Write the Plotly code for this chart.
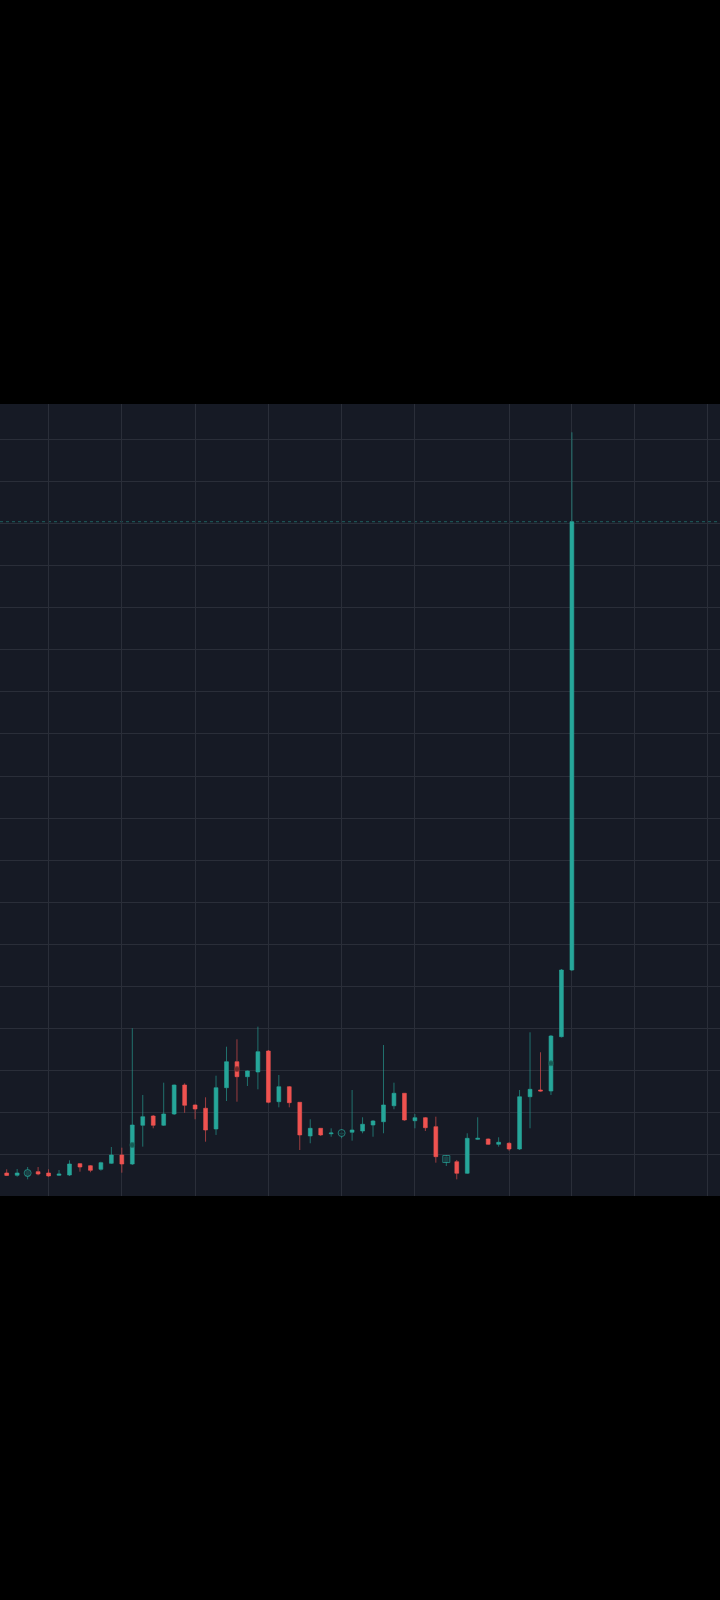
import plotly.graph_objects as go

# ---- data (prices) ----
idx = list(range(55))
open_ = [0.0786, 0.0759, 0.0751, 0.0802, 0.0786, 0.0759, 0.0762, 0.0897, 0.0873, 0.0830,
         0.0901, 0.1000, 0.0893, 0.1353, 0.1463, 0.1353, 0.1487, 0.1831, 0.1594, 0.1555,
         0.1309, 0.1799, 0.2108, 0.1930, 0.1986, 0.2235, 0.1633, 0.1811, 0.1626, 0.1226,
         0.1317, 0.1252, 0.1249, 0.1270, 0.1285, 0.1356, 0.1395, 0.1585, 0.1733, 0.1407,
         0.1443, 0.1336, 0.0917, 0.0920, 0.0783, 0.1186, 0.1190, 0.1127, 0.1139, 0.1071,
         0.1692, 0.1772, 0.1760, 0.2405, 0.3197]
high = [0.0830, 0.0834, 0.0857, 0.0857, 0.0830, 0.0822, 0.0937, 0.0905, 0.0880, 0.0920,
        0.1095, 0.1087, 0.2505, 0.1713, 0.1475, 0.1859, 0.1837, 0.1851, 0.1600, 0.1685,
        0.1942, 0.2286, 0.2374, 0.2004, 0.2524, 0.2247, 0.1950, 0.1819, 0.1629, 0.1424,
        0.1321, 0.1317, 0.1305, 0.1772, 0.1448, 0.1416, 0.2306, 0.1859, 0.1736, 0.1487,
        0.1451, 0.1455, 0.1000, 0.0941, 0.1258, 0.1448, 0.1196, 0.1210, 0.1151, 0.1772,
        0.2457, 0.2220, 0.2425, 0.3209, 0.9583]
low = [0.0751, 0.0742, 0.0711, 0.0759, 0.0742, 0.0751, 0.0751, 0.0802, 0.0795, 0.0814,
       0.0893, 0.0790, 0.0881, 0.1099, 0.1317, 0.1344, 0.1475, 0.1502, 0.1424, 0.1158,
       0.1238, 0.1641, 0.1633, 0.1819, 0.1780, 0.1614, 0.1566, 0.1566, 0.1059, 0.1139,
       0.1226, 0.1217, 0.1198, 0.1170, 0.1258, 0.1217, 0.1258, 0.1543, 0.1407, 0.1317,
       0.1285, 0.0909, 0.0869, 0.0711, 0.0774, 0.1180, 0.1119, 0.1099, 0.1051, 0.1059,
       0.1317, 0.1754, 0.1713, 0.2395, 0.3185]
close = [0.0757, 0.0786, 0.0814, 0.0774, 0.0751, 0.0774, 0.0893, 0.0857, 0.0818, 0.0909,
         0.1000, 0.0893, 0.1356, 0.1455, 0.1353, 0.1487, 0.1831, 0.1590, 0.1546, 0.1297,
         0.1799, 0.2108, 0.1930, 0.1998, 0.2227, 0.1626, 0.1811, 0.1621, 0.1238, 0.1317,
         0.1238, 0.1261, 0.1258, 0.1297, 0.1365, 0.1404, 0.1594, 0.1733, 0.1416, 0.1443,
         0.1324, 0.0980, 0.0976, 0.0783, 0.1198, 0.1198, 0.1127, 0.1151, 0.1071, 0.1692,
         0.1780, 0.1760, 0.2413, 0.3197, 0.8521]

# small signal markers drawn on a few candles
mark_idx = [2, 12, 22, 32, 42, 52]
mark_price = [0.0786, 0.1119, 0.2021, 0.1261, 0.0952, 0.2089]
mark_symbol = ["circle", "circle", "circle", "circle", "square", "circle"]
mark_fill = ["#161a25", "#0f3f3b", "#3a1a1d", "#161a25", "#161a25", "#0f3f3b"]
mark_line = ["#26a69a", "#1b5e57", "#7a2b2b", "#26a69a", "#26a69a", "#1b5e57"]
mark_size = [7, 5, 5, 7, 7, 5]

# vertical grid positions (candle index) and price grid step
x_grid = [4, 11, 18, 25, 32, 39, 48, 54, 60, 67]
y_step = 0.05
x_range = [-0.64, 68.15]
y_range = [0.0513, 0.9919]

UP = "#26a69a"
DOWN = "#ef5350"
UP_WICK = "rgba(38,166,154,0.62)"
DOWN_WICK = "rgba(239,83,80,0.62)"
BG = "#161a25"
GRID = "#2a2e39"

fig = go.Figure()
fig.add_trace(go.Candlestick(
    x=idx, open=open_, high=high, low=low, close=close,
    increasing=dict(line=dict(color=UP_WICK, width=1), fillcolor=UP),
    decreasing=dict(line=dict(color=DOWN_WICK, width=1), fillcolor=DOWN),
    whiskerwidth=0, hoverinfo="skip", showlegend=False,
))
fig.add_trace(go.Scatter(
    x=mark_idx, y=mark_price, mode="markers",
    marker=dict(symbol=mark_symbol, size=mark_size, color=mark_fill,
                line=dict(color=mark_line, width=1)),
    hoverinfo="skip", showlegend=False,
))

# last-price dotted line
fig.add_shape(type="line", xref="paper", x0=0, x1=1, yref="y",
              y0=close[-1], y1=close[-1],
              line=dict(color="rgba(38,166,154,0.5)", width=1, dash="dot"),
              layer="below")

fig.update_layout(
    width=720, height=1600,
    margin=dict(l=0, r=0, t=404, b=404, pad=0),
    paper_bgcolor="#000000", plot_bgcolor=BG,
    boxgap=0.48,
    showlegend=False,
    xaxis=dict(range=x_range, tickmode="array", tickvals=x_grid,
               showticklabels=False, showgrid=True, gridcolor=GRID, gridwidth=1,
               zeroline=False, showline=False, rangeslider=dict(visible=False),
               fixedrange=True),
    yaxis=dict(range=y_range, tick0=0, dtick=y_step, showticklabels=False,
               showgrid=True, gridcolor=GRID, gridwidth=1, zeroline=False,
               showline=False, fixedrange=True),
)

fig.write_html(
    "out.html",
    config={"displayModeBar": False, "staticPlot": True},
    post_script="document.body.style.margin='0';document.body.style.background='#000';",
)
